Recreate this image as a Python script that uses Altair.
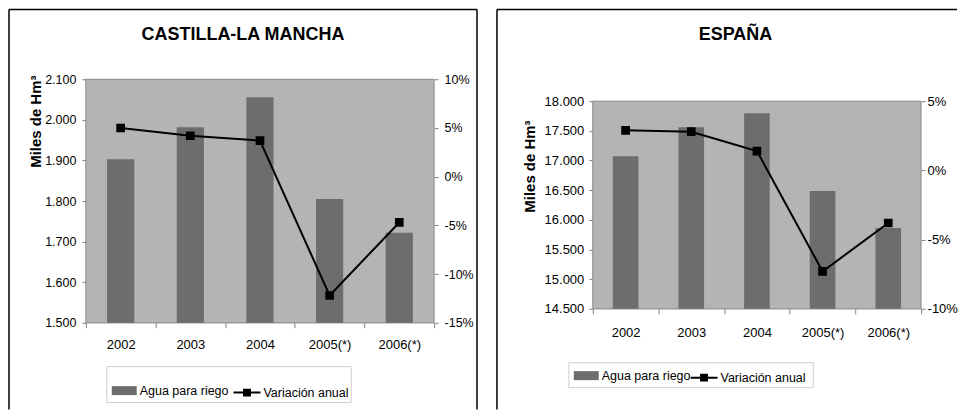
import altair as alt
import pandas as pd

years = ["2002", "2003", "2004", "2005(*)", "2006(*)"]
clm_agua = [1903, 1982, 2056, 1805, 1722]
clm_var = [5.0, 4.2, 3.7, -12.2, -4.7]
esp_agua = [17074, 17562, 17798, 16485, 15862]
esp_var = [2.9, 2.8, 1.4, -7.3, -3.8]

FONT = "Liberation Sans"
BAR_C = "#6d6d6d"
GRID_C = "#808080"


def panel(title, agua, var, ydom, yvals, pdom, pvals, w, h, lay):
    df = pd.DataFrame({"year": years, "agua": agua, "var": [v / 100 for v in var],
                       "s1": "Agua para riego", "s2": "Variación anual"})
    top = lay["top"]
    base = alt.Chart(df)
    x = alt.X("year:N", sort=years, title=None,
              scale=alt.Scale(paddingInner=0, paddingOuter=0),
              axis=alt.Axis(labelAngle=0, tickBand="extent", tickSize=5, tickColor=GRID_C,
                            domain=False, labelFont=FONT, labelFontSize=13,
                            labelColor="black", labelPadding=lay["xlabpad"]))
    bars = base.mark_bar(width=alt.RelativeBandSize(0.39)).encode(
        x=x,
        y=alt.Y("agua:Q", scale=alt.Scale(domain=ydom, zero=False, nice=False, range=[h, top]),
                axis=alt.Axis(values=yvals,
                              labelExpr="replace(format(datum.value, ',d'), ',', '.')",
                              tickSize=4, tickColor=GRID_C, domain=False,
                              labelFont=FONT, labelFontSize=lay["yfs"], labelColor="black",
                              labelPadding=lay["ylabpad"],
                              title="Miles de Hm³", titleFont=FONT, titleFontSize=15,
                              titleFontWeight="bold", titleColor="black",
                              titleAngle=270, titleAlign="center", titleBaseline="middle",
                              titleX=lay["ytx"], titleY=lay["yty"])),
        y2=alt.datum(ydom[0]),
        fill=alt.Fill("s1:N", scale=alt.Scale(range=[BAR_C]),
                      legend=alt.Legend(orient="none", legendX=lay["leg1"][0],
                                        legendY=lay["leg1"][1], title=None,
                                        symbolType="M-1,-0.36H1V0.36H-1Z", symbolSize=625,
                                        symbolStrokeWidth=0, labelFont=FONT,
                                        labelFontSize=12.5, labelColor="black",
                                        labelOffset=3, padding=0)),
    )
    line = base.mark_line(strokeWidth=2,
                          point=alt.OverlayMarkDef(shape="square", filled=True, size=45,
                                                   color="black")).encode(
        x=x,
        y=alt.Y("var:Q", scale=alt.Scale(domain=pdom, zero=False, nice=False, range=[h, top]),
                axis=alt.Axis(orient="right", values=pvals,
                              labelExpr="replace(format(datum.value, '.0%'), '−', '-')",
                              tickSize=4, tickColor=GRID_C, domain=False,
                              labelFont=FONT, labelFontSize=lay["yfs"], labelColor="black",
                              labelPadding=lay["plabpad"], title=None)),
        stroke=alt.Stroke("s2:N", scale=alt.Scale(range=["black"]),
                          legend=alt.Legend(orient="none", legendX=lay["leg2"][0],
                                            legendY=lay["leg2"][1], title=None,
                                            symbolType="M-1,0H1M-0.22,-0.22H0.22V0.22H-0.22Z",
                                            symbolSize=729, symbolStrokeWidth=2,
                                            symbolFillColor="black", symbolStrokeColor="black",
                                            labelFont=FONT, labelFontSize=12.5,
                                            labelColor="black", labelOffset=2, padding=0)),
    )
    deco = alt.Chart(alt.Data(values=[{}]))
    layers = []
    for (x1, x2, y1, y2) in lay["frame"]:
        layers.append(deco.mark_rule(color="black", strokeWidth=1.5).encode(
            x=alt.value(x1), x2=alt.value(x2), y=alt.value(y1), y2=alt.value(y2)))
    layers.append(deco.mark_rect(fill="#b4b4b4", stroke="#8a8a8a", strokeWidth=1).encode(
        x=alt.value(0), x2=alt.value(w), y=alt.value(top), y2=alt.value(h)))
    lb = lay["lbox"]
    layers.append(deco.mark_rect(fill="white", fillOpacity=0, stroke="#cfcfcf",
                                 strokeWidth=1).encode(
        x=alt.value(lb[0]), x2=alt.value(lb[1]), y=alt.value(lb[2]), y2=alt.value(lb[3])))
    layers.append(deco.mark_text(text=title, font=FONT, fontSize=18, fontWeight="bold",
                                 color="black", align="center", baseline="middle").encode(
        x=alt.value(lay["title"][0]), y=alt.value(lay["title"][1])))
    return alt.layer(*layers, bars, line).resolve_scale(
        y="independent").properties(width=w, height=h)


left = panel("CASTILLA-LA MANCHA", clm_agua, clm_var, [1500, 2100],
             [1500, 1600, 1700, 1800, 1900, 2000, 2100],
             [-0.15, 0.10], [-0.15, -0.10, -0.05, 0.0, 0.05, 0.10],
             349, 244,
             dict(top=0, xlabpad=11, ylabpad=6, plabpad=6, yfs=12.5, ytx=-50, yty=42,
                  leg1=(26, 299.5), leg2=(147, 299.5),
                  frame=[(-77, -77, -70, 331), (-77, 392, -70, -70), (392, 392, -70, 331)],
                  lbox=(21, 266, 288, 324), title=(157.5, -44)))

right = panel("ESPAÑA", esp_agua, esp_var, [14500, 18000],
              [14500, 15000, 15500, 16000, 16500, 17000, 17500, 18000],
              [-0.10, 0.05], [-0.10, -0.05, 0.0, 0.05],
              329, 230,
              dict(top=22, xlabpad=13, ylabpad=5, plabpad=2, yfs=13, ytx=-63, yty=87,
                   leg1=(-19, 284.5), leg2=(97, 284.5),
                   frame=[(-96, -96, -70, 331), (-96, 365, -70, -70)],
                   lbox=(-24, 221, 284, 309), title=(143, -44)))

chart = alt.hconcat(left, right, spacing=18).resolve_scale(
    fill="independent", stroke="independent"
).configure_view(strokeWidth=0).properties(
    padding={"left": 0, "top": 0, "right": 0, "bottom": 0}, background="white")

chart.save("out.html", embed_options={"renderer": "svg", "actions": False})
